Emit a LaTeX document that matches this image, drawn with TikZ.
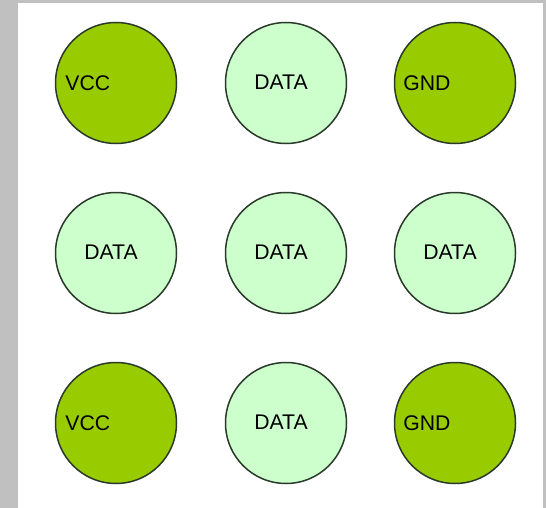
\documentclass[tikz,border=0pt]{standalone}
\usepackage{fontspec}
\setmainfont{Liberation Sans}
\definecolor{bggray}{HTML}{C0C0C0}
\definecolor{pwrgreen}{HTML}{99CC00}
\definecolor{datagreen}{HTML}{CCFFCC}
\definecolor{edgecol}{HTML}{2A3A2A}
\begin{document}
\begin{tikzpicture}[x=0.5pt,y=-0.5pt,
  pin/.style={circle,draw=edgecol,line width=0.75pt,minimum size=60.5pt,inner sep=0pt},
  pwr/.style={pin,fill=pwrgreen},
  dat/.style={pin,fill=datagreen},
  pintext/.style={inner sep=0pt,font=\fontsize{10.6}{12}\selectfont},
  pwrlabel/.style={pintext,anchor=west}]
\fill[bggray] (0,0) rectangle (546,508);
\fill[white] (18,3) rectangle (543,508);
\useasboundingbox (0,0) rectangle (546,508);
% row 1
\node[pwr] (p11) at (116,83) {};
\node[dat] (p12) at (286,83) {};
\node[pwr] (p13) at (455,83) {};
% row 2
\node[dat] (p21) at (116,253) {};
\node[dat] (p22) at (286,253) {};
\node[dat] (p23) at (455,253) {};
% row 3
\node[pwr] (p31) at (116,423) {};
\node[dat] (p32) at (286,423) {};
\node[pwr] (p33) at (455,423) {};
% labels
\node[pwrlabel] (l11) at (65,83) {VCC};
\node[pintext] (l12) at (281,82) {DATA};
\node[pwrlabel] (l13) at (403,83) {GND};
\node[pintext] (l21) at (111,252) {DATA};
\node[pintext] (l22) at (281,252) {DATA};
\node[pintext] (l23) at (450,252) {DATA};
\node[pwrlabel] (l31) at (65,423) {VCC};
\node[pintext] (l32) at (281,422) {DATA};
\node[pwrlabel] (l33) at (403,423) {GND};
\end{tikzpicture}
\end{document}
